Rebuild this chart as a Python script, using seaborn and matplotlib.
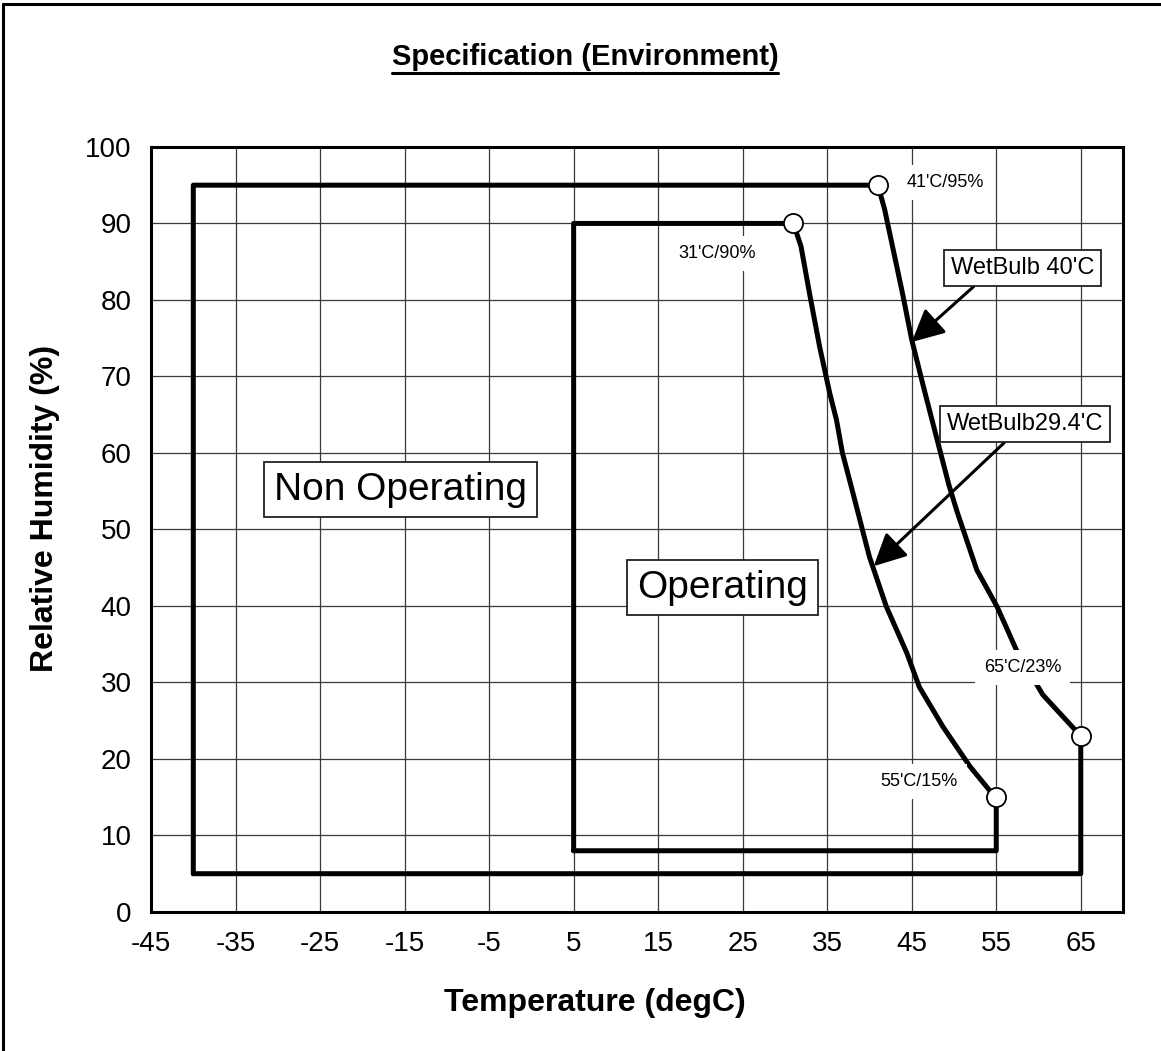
import numpy as np
import pandas as pd
import matplotlib
matplotlib.use("Agg")
import matplotlib.pyplot as plt
from matplotlib.lines import Line2D
import seaborn as sns

# --- data ---
# wet bulb 40'C curve (non operating), from 41'C/95% down to 65'C/23%
wb40_temp = [41.0, 41.8, 43.9, 45.0, 46.4, 47.8, 49.4, 50.4, 52.7, 55.1, 57.4, 60.5, 62.5, 65.0]
wb40_rh = [95.0, 91.8, 80.9, 74.8, 68.6, 62.6, 55.8, 52.2, 44.7, 39.9, 34.2, 28.4, 26.0, 23.0]

# wet bulb 29.4'C curve (operating), from 31'C/90% down to 55'C/15%
wb29_temp = [31.0, 31.9, 32.9, 34.1, 35.3, 36.1, 36.8, 37.8, 40.0, 42.0, 44.4, 45.9, 48.7, 51.9, 54.2, 55.0]
wb29_rh = [90.0, 87.0, 80.9, 73.9, 67.8, 64.3, 60.0, 55.8, 46.4, 39.9, 33.9, 29.4, 24.2, 19.0, 15.9, 15.0]

# rectangular limits
nonop_tmin, nonop_rhmin, nonop_rhmax = -40, 5, 95
op_tmin, op_rhmin, op_rhmax = 5, 8, 90

# corner points marked with circles
corner_temp = [41, 31, 55, 65]
corner_rh = [95, 90, 15, 23]
corner_labels = ["41'C/95%", "31'C/90%", "55'C/15%", "65'C/23%"]

x_ticks = list(range(-45, 66, 10))
y_ticks = list(range(0, 101, 10))

# build closed outlines
nonop = pd.DataFrame({
    "t": [nonop_tmin, nonop_tmin] + wb40_temp + [wb40_temp[-1], nonop_tmin],
    "rh": [nonop_rhmin, nonop_rhmax] + wb40_rh + [nonop_rhmin, nonop_rhmin],
})
op = pd.DataFrame({
    "t": [op_tmin, op_tmin] + wb29_temp + [wb29_temp[-1], op_tmin],
    "rh": [op_rhmin, op_rhmax] + wb29_rh + [op_rhmin, op_rhmin],
})

sns.set_style("white")
plt.rcParams["font.family"] = ["Liberation Sans", "DejaVu Sans"]
plt.rcParams["axes.unicode_minus"] = False
plt.rcParams["text.color"] = "black"
plt.rcParams["axes.labelcolor"] = "black"

fig = plt.figure(figsize=(11.61, 10.51), dpi=100)
ax = fig.add_axes([0.1301, 0.1323, 0.8372, 0.7279])

sns.lineplot(data=nonop, x="t", y="rh", sort=False, estimator=None,
             color="black", lw=3.6, ax=ax, zorder=3)
sns.lineplot(data=op, x="t", y="rh", sort=False, estimator=None,
             color="black", lw=3.6, ax=ax, zorder=3)
sns.scatterplot(x=corner_temp, y=corner_rh, s=190, facecolor="white",
                edgecolor="black", linewidth=1.3, ax=ax, zorder=6)

ax.set_xlim(-45, 70)
ax.set_ylim(0, 100)
ax.set_xticks(x_ticks)
ax.set_xticks(np.arange(-40, 66, 10), minor=True)
ax.set_yticks(y_ticks)
ax.set_yticks(np.arange(5, 100, 10), minor=True)
ax.grid(True, which="major", color="#3a3a3a", lw=0.9)
ax.tick_params(axis="both", which="both", direction="in", length=7, width=1.3,
               pad=14, labelsize=20, colors="black")
for s in ax.spines.values():
    s.set_visible(True)
    s.set_color("black")
    s.set_linewidth(2.2)

ax.set_xlabel("Temperature (degC)", fontsize=23, fontweight="bold")
ax.set_ylabel("Relative Humidity (%)", fontsize=23, fontweight="bold")
ax.xaxis.set_label_coords((595 - 151) / 972, (912 - 1003) / 765)
ax.xaxis.label.set_va("center")
ax.yaxis.set_label_coords((45 - 151) / 972, (912 - 508) / 765)
ax.yaxis.label.set_va("center")

# corner labels with white background
label_pos = [(49.0, 95.3), (22.0, 86.1), (45.9, 17.0), (58.1, 32.0)]
for (lx, ly), txt in zip(label_pos, corner_labels):
    ax.text(lx, ly, txt, ha="center", va="center", fontsize=13, zorder=5,
            bbox=dict(boxstyle="square,pad=0.5", fc="white", ec="none"))

# region boxes
box = dict(boxstyle="square,pad=0.25", fc="white", ec="#222222", lw=1.3)
ax.text(-15.5, 55.2, "Non Operating", ha="center", va="center", fontsize=28,
        bbox=box, zorder=5)
ax.text(22.6, 42.4, "Operating", ha="center", va="center", fontsize=28,
        bbox=box, zorder=5)

arrow = dict(arrowstyle="-|>,head_length=0.9,head_width=0.45", color="black",
             lw=2.2, mutation_scale=22, shrinkA=0, shrinkB=0)
ax.annotate("WetBulb 40'C", xy=(45.0, 74.5), xytext=(58.1, 84.2),
            ha="center", va="center", fontsize=17, zorder=5,
            bbox=dict(boxstyle="square,pad=0.3", fc="white", ec="#222222", lw=1.3),
            arrowprops=dict(arrow, relpos=(0.22, 0)))
ax.annotate("WetBulb29.4'C", xy=(40.5, 45.2), xytext=(58.4, 63.8),
            ha="center", va="center", fontsize=17, zorder=5,
            bbox=dict(boxstyle="square,pad=0.3", fc="white", ec="#222222", lw=1.3),
            arrowprops=dict(arrow, relpos=(0.42, 0)))

# title with underline
title = fig.text(585 / 1161, 1 - 57 / 1051, "Specification (Environment)", ha="center",
                 va="center", fontsize=21, fontweight="bold")
fig.canvas.draw()
bb = title.get_window_extent().transformed(fig.transFigure.inverted())
fig.add_artist(Line2D([bb.x0, bb.x1], [bb.y0 - 0.002, bb.y0 - 0.002],
                      color="black", lw=2.2, transform=fig.transFigure))

# page frame (left and top edges)
fig.add_artist(Line2D([3 / 1161, 3 / 1161], [0, 1 - 4 / 1051], color="black",
                      lw=2.2, transform=fig.transFigure))
fig.add_artist(Line2D([3 / 1161, 1], [1 - 4 / 1051, 1 - 4 / 1051], color="black",
                      lw=2.2, transform=fig.transFigure))

fig.savefig("out.png", dpi=100, facecolor="white")
